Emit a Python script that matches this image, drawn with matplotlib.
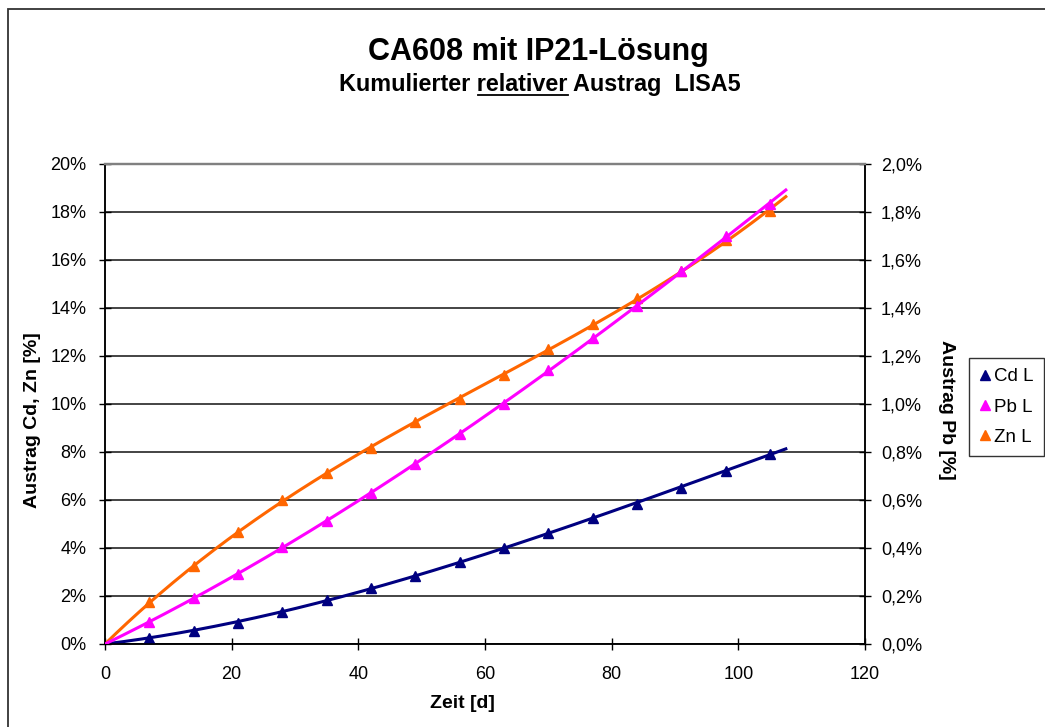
import numpy as np
import matplotlib
matplotlib.use("Agg")
import matplotlib.pyplot as plt
from matplotlib.lines import Line2D
from matplotlib.patches import Rectangle
from matplotlib.ticker import FuncFormatter, MultipleLocator

# Sampling days and cumulative relative discharge
days = [7, 14, 21, 28, 35, 42, 49, 56, 63, 70, 77, 84, 91, 98, 105]
cd_pct = [0.25, 0.54, 0.88, 1.34, 1.84, 2.34, 2.84, 3.42, 4.00, 4.63, 5.26, 5.85, 6.51, 7.22, 7.93]
zn_pct = [1.75, 3.26, 4.68, 6.01, 7.14, 8.18, 9.23, 10.19, 11.19, 12.28, 13.32, 14.40, 15.53, 16.83, 18.04]
pb_pct = [0.092, 0.192, 0.292, 0.405, 0.514, 0.630, 0.752, 0.873, 1.002, 1.140, 1.273, 1.407, 1.553, 1.699, 1.835]
trend_end = 107.5

series_names = ["Cd L", "Pb L", "Zn L"]
colors = {"Cd L": "#000080", "Pb L": "#FF00FF", "Zn L": "#FF6600"}

plt.rcParams["font.family"] = ["Liberation Sans", "DejaVu Sans"]

W, H = 1045, 727
fig = plt.figure(figsize=(W / 100, H / 100), dpi=100)


def fx(px):
    return px / W


def fy(py):
    return 1 - py / H


# chart-area frame (left and top edges visible)
fig.add_artist(Rectangle((fx(8), fy(2000)), fx(2000), fy(9) - fy(2000),
                         transform=fig.transFigure, fill=False,
                         edgecolor="#333333", lw=1.3))

ax = fig.add_axes([fx(105), fy(644), fx(865) - fx(105), fy(164) - fy(644)])
ax2 = ax.twinx()


def trend(x, y, deg=3):
    # polynomial trend through the origin
    x = np.asarray(x, float)
    y = np.asarray(y, float)
    A = np.vstack([x ** k for k in range(1, deg + 1)]).T
    c, *_ = np.linalg.lstsq(A, y, rcond=None)
    t = np.linspace(0, trend_end, 300)
    return t, sum(c[k - 1] * t ** k for k in range(1, deg + 1))


mk = dict(marker="^", markersize=7.5, linestyle="none")
for name, vals, axis in [("Cd L", cd_pct, ax), ("Zn L", zn_pct, ax), ("Pb L", pb_pct, ax2)]:
    t, yt = trend(days, vals)
    axis.plot(t, yt, color=colors[name], lw=2.2, zorder=3)
    axis.plot(days, vals, color=colors[name], zorder=4, **mk)

ax.set_xlim(0, 120)
ax.set_ylim(0, 20)
ax2.set_ylim(0, 2.0)
ax.xaxis.set_major_locator(MultipleLocator(20))
ax.yaxis.set_major_locator(MultipleLocator(2))
ax2.yaxis.set_major_locator(MultipleLocator(0.2))
ax.yaxis.set_major_formatter(FuncFormatter(lambda v, p: f"{v:.0f}%"))
ax2.yaxis.set_major_formatter(FuncFormatter(lambda v, p: f"{v:.1f}%".replace(".", ",")))

ax.yaxis.grid(True, color="#111111", lw=1.1)
ax.set_axisbelow(True)

for a in (ax, ax2):
    for s in ("left", "right", "bottom"):
        a.spines[s].set_color("black")
        a.spines[s].set_linewidth(1.1)
    a.spines["top"].set_color("#808080")
    a.spines["top"].set_linewidth(1.6)

ax.tick_params(axis="y", direction="inout", length=9, width=1, labelsize=13, pad=9)
ax.tick_params(axis="x", direction="inout", length=9, width=1, labelsize=13, pad=11)
ax2.tick_params(axis="y", direction="inout", length=9, width=1, labelsize=13, pad=7)

# axis titles
lab_kw = dict(fontsize=14, fontweight="bold", ha="center", va="center")
fig.text(fx(462), fy(703), "Zeit [d]", **lab_kw)
fig.text(fx(33), fy(420), "Austrag Cd, Zn [%]", rotation=90, **lab_kw)
fig.text(fx(946), fy(410), "Austrag Pb [%]", rotation=270, **lab_kw)

# titles
fig.text(fx(538), fy(52), "CA608 mit IP21-Lösung", ha="center", va="center",
         fontsize=22, fontweight="bold")

sub_parts = ["Kumulierter ", "relativer", " Austrag  LISA5"]
sub_kw = dict(fontsize=16.8, fontweight="bold", va="baseline")
full = fig.text(fx(540), fy(91), "".join(sub_parts), ha="center", **sub_kw)
fig.canvas.draw()
r = fig.canvas.get_renderer()
fb = full.get_window_extent(r)
probe = fig.text(0, 0, sub_parts[0], **sub_kw)
w0 = probe.get_window_extent(r).width
probe.set_text(sub_parts[0] + sub_parts[1])
w1 = probe.get_window_extent(r).width
probe.remove()
ux0 = (fb.x0 + w0 + 1) / W
ux1 = (fb.x0 + w1) / W
fig.add_artist(Line2D([ux0, ux1], [fy(95), fy(95)], transform=fig.transFigure,
                      color="black", lw=1.3))

# legend
handles = [Line2D([], [], color=colors[n], **mk) for n in series_names]
leg = fig.legend(handles, series_names, loc="upper left",
                 bbox_to_anchor=(fx(969), fy(358)), fontsize=13.5,
                 frameon=True, fancybox=False, borderpad=0.55,
                 handlelength=0.6, handletextpad=0.2, labelspacing=0.7,
                 borderaxespad=0)
leg.get_frame().set_edgecolor("black")
leg.get_frame().set_linewidth(1.0)

fig.savefig("out.png", dpi=100)
